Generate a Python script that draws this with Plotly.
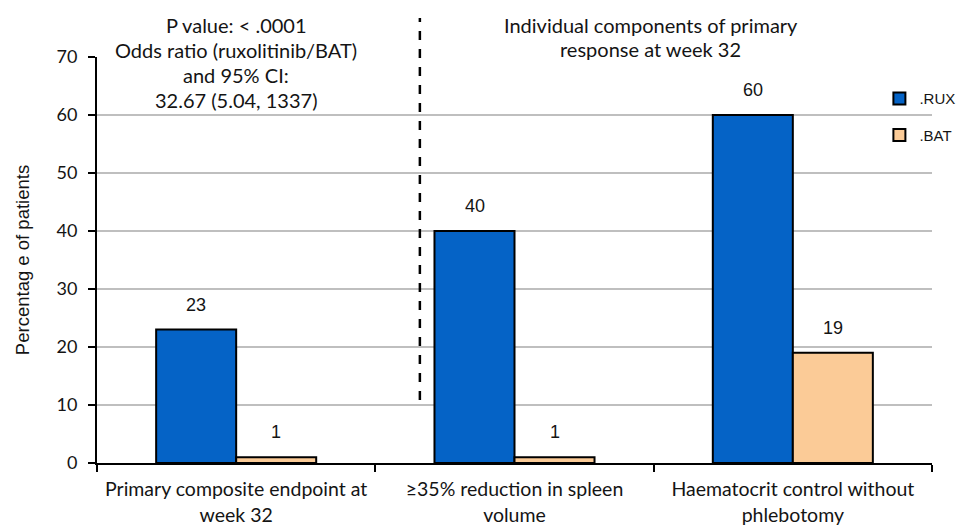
import plotly.graph_objects as go

categories = ["Primary composite endpoint at<br>week 32",
              "≥35% reduction in spleen<br>volume",
              "Haematocrit control without<br>phlebotomy"]
rux_values = [23, 40, 60]
bat_values = [1, 1, 19]
series_names = [".RUX", ".BAT"]
y_ticks = [0, 10, 20, 30, 40, 50, 60, 70]
left_note = ["P value: < .0001", "Odds ratio (ruxolitinib/BAT)", "and 95% CI:", "32.67 (5.04, 1337)"]
right_note = ["Individual components of primary", "response at week 32"]

FONT = "Lato"
TXT = "#141414"

fig = go.Figure()
fig.add_trace(go.Bar(x=categories, y=rux_values, name=series_names[0],
                     marker=dict(color="#0563C6", line=dict(color="black", width=2)),
                     legendgroup="a"))
fig.add_trace(go.Bar(x=categories, y=bat_values, name=series_names[1],
                     marker=dict(color="#FBCB97", line=dict(color="black", width=2)),
                     legendgroup="b"))

annotations = []
for i, c in enumerate(categories):
    for vals, shift in ((rux_values, -40), (bat_values, 40)):
        annotations.append(dict(x=c, y=vals[i], xref="x", yref="y", text=str(vals[i]),
                                showarrow=False, xshift=shift, yshift=25, yanchor="middle",
                                font=dict(family="Liberation Sans", size=18, color=TXT)))
for k, line in enumerate(left_note):
    annotations.append(dict(x=categories[0], xref="x", y=1, yref="paper", text=line,
                            showarrow=False, yanchor="middle", yshift=32 - 25 * k,
                            font=dict(family=FONT, size=20, color=TXT)))
for k, line in enumerate(right_note):
    annotations.append(dict(x=1.49, xref="x", y=1, yref="paper", text=line,
                            showarrow=False, yanchor="middle", yshift=32 - 24 * k,
                            font=dict(family=FONT, size=20, color=TXT)))

fig.update_layout(
    width=964, height=525,
    margin=dict(l=89, r=19, t=49, b=70),
    paper_bgcolor="white", plot_bgcolor="white",
    barmode="group", bargap=0.425, bargroupgap=0,
    font=dict(family=FONT, size=15, color=TXT),
    showlegend=True,
    legend=dict(x=0.937, y=0.938, xanchor="left", yanchor="top",
                bgcolor="rgba(0,0,0,0)", tracegroupgap=14,
                font=dict(family="Liberation Sans", size=15, color=TXT),
                itemwidth=30),
    annotations=annotations,
    shapes=[dict(type="line", xref="x", yref="paper", x0=0.66, x1=0.66,
                 y0=(463 - 400) / 406, y1=(463 - 18) / 406,
                 line=dict(color="black", width=2.5, dash="dash"))],
    xaxis=dict(showline=True, linecolor="black", linewidth=2,
               ticks="outside", tickson="boundaries", ticklen=7, tickwidth=1.5,
               tickcolor="black", showgrid=False, automargin=False,
               ticklabelstandoff=8,
               tickfont=dict(family=FONT, size=19.5, color=TXT)),
    yaxis=dict(range=[0, 70], tickvals=y_ticks, showline=True, linecolor="black",
               linewidth=2, ticks="outside", ticklen=7, tickwidth=1.5, tickcolor="black",
               showgrid=True, gridcolor="#BFBFBF", gridwidth=2, zeroline=False,
               automargin=False, ticklabelstandoff=7,
               tickfont=dict(family=FONT, size=18, color=TXT),
               title=dict(text="Percentag e of patients", standoff=22,
                          font=dict(family="Liberation Sans", size=18.5, color=TXT))),
)

fig.write_html("out.html")
